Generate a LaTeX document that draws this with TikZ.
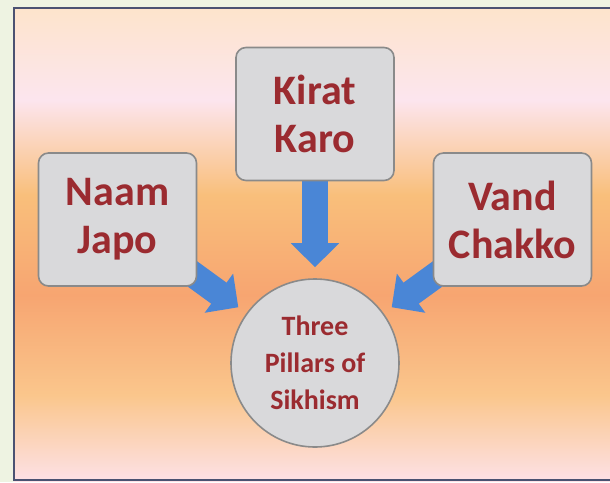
\documentclass[tikz,border=0pt]{standalone}
\usepackage{fontspec}
\setmainfont{Carlito}
\usetikzlibrary{arrows.meta}

\definecolor{pagegreen}{HTML}{EEF3E2}
\definecolor{framegray}{HTML}{4B5272}
\definecolor{boxfill}{HTML}{D9D9DB}
\definecolor{boxline}{HTML}{8A8A8A}
\definecolor{pillartext}{HTML}{9B2B30}
\definecolor{arrowblue}{HTML}{4A86D6}
\definecolor{bgpeach}{HTML}{FDE4CC}
\definecolor{bgpink}{HTML}{FCE5EE}
\definecolor{bgorange}{HTML}{F9BF7B}
\definecolor{bgsalmon}{HTML}{F7A571}
\definecolor{bglight}{HTML}{FAC68C}
\definecolor{bgbottom}{HTML}{FDE1E6}

\pgfdeclarelayer{back}
\pgfdeclarelayer{arrows}
\pgfsetlayers{back,arrows,main}

\tikzset{
  pillar/.style={rectangle,rounded corners=10pt,draw=boxline,line width=1.6pt,
    fill=boxfill,minimum width=158pt,minimum height=133pt,align=center,
    text=pillartext,font=\bfseries\fontsize{42}{48}\selectfont},
  hub/.style={circle,draw=boxline,line width=1.6pt,fill=boxfill,
    minimum size=168pt,inner sep=0pt,align=center,
    text=pillartext,font=\bfseries\fontsize{28}{37}\selectfont},
  bigarrow/.style={draw=arrowblue,line width=26pt,
    -{Triangle[width=47pt,length=24pt]}}
}

\begin{document}
\begin{tikzpicture}[x=1pt,y=-1pt]
   \useasboundingbox (0,0) rectangle (610,482);
   \clip (0,0) rectangle (610,482);
   \begin{pgfonlayer}{back}
    \fill[pagegreen] (0,0) rectangle (610,482);
    \shade[top color=bgpeach,bottom color=bgpink] (14,8) rectangle (615,100);
    \shade[top color=bgpink,bottom color=bgorange] (14,100) rectangle (615,195);
    \shade[top color=bgorange,bottom color=bgsalmon] (14,195) rectangle (615,295);
    \shade[top color=bgsalmon,bottom color=bglight] (14,295) rectangle (615,395);
    \shade[top color=bglight,bottom color=bgbottom] (14,395) rectangle (615,481);
    \draw[framegray,line width=2pt] (14,8) rectangle (615,480);
   \end{pgfonlayer}
   \node[pillar] (naam) at (117.5,219.5) {Naam\\Japo};
   \node[pillar] (kirat) at (315,114) {Kirat\\Karo};
   \node[pillar] (vand) at (512.5,219.5) {Vand\\Chakko};
   \node[hub] (pillars) at (315,363) {Three\\Pillars of\\Sikhism};
   \begin{pgfonlayer}{arrows}
    \draw[bigarrow,shorten >=11pt] (kirat.center) -- (pillars);
    \draw[bigarrow,shorten >=10pt] (naam.center) -- (pillars);
    \draw[bigarrow,shorten >=10pt] (vand.center) -- (pillars);
   \end{pgfonlayer}
\end{tikzpicture}
\end{document}
